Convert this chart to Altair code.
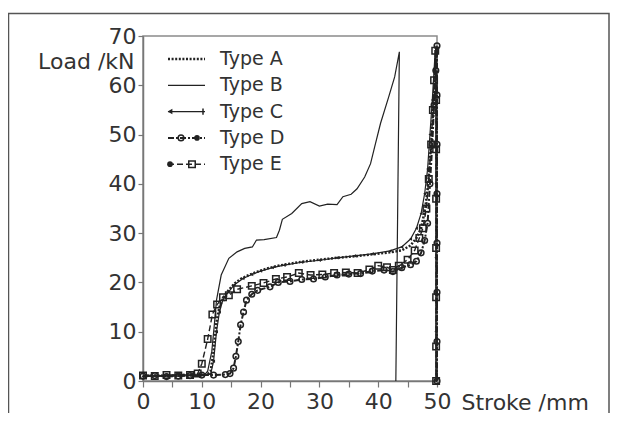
import altair as alt
import pandas as pd

TYPES = ["Type A", "Type B", "Type C", "Type D", "Type E"]

A_x = [0, 2, 4, 6, 8, 10, 11, 11.5, 12.0, 12.5, 13.0, 13.7, 14.6, 15.6, 16.6, 18.0, 19.5, 21.0, 23.0, 25.0, 27.0, 30.0, 33.0, 36.0, 39.0, 42.0, 44.0, 45.5, 46.5, 47.3, 48.0, 48.5, 49.0, 49.4, 49.7, 49.9, 49.95, 49.95, 49.95, 49.95, 49.95]
A_y = [1.0, 1.1, 1.0, 1.2, 1.3, 1.3, 1.4, 2.0, 6.0, 12.0, 15.0, 17.0, 18.5, 19.8, 20.7, 21.5, 22.2, 22.8, 23.4, 23.8, 24.2, 24.6, 25.0, 25.3, 25.7, 26.1, 26.5, 27.5, 29.0, 31.0, 35.0, 40.0, 48.0, 56.0, 63.0, 68.0, 55, 40, 25, 10, 0]

B_x = [0, 3, 6, 9, 10.5, 11.0, 11.7, 12.1, 12.5, 13.3, 14.6, 16.0, 17.3, 18.6, 19.3, 20.6, 22.7, 23.2, 23.7, 25.3, 27.0, 28.4, 30.0, 31.4, 33.0, 34.0, 35.4, 36.4, 37.7, 38.7, 39.4, 40.4, 41.8, 42.8, 43.6, 43.0]
B_y = [1.2, 1.1, 1.3, 1.2, 1.3, 2.0, 6.0, 11.0, 16.4, 21.5, 24.9, 26.2, 26.9, 27.2, 28.6, 28.7, 29.1, 30.6, 32.8, 34.0, 36.0, 36.4, 35.5, 35.9, 35.8, 37.4, 37.9, 39.0, 41.4, 44.1, 47.5, 52.3, 57.7, 61.7, 66.8, 0]

C_x = [0, 2, 4, 6, 8, 10, 11.5, 12.0, 12.5, 13.0, 13.6, 14.5, 15.5, 17.0, 18.5, 20.0, 22.0, 24.0, 27.0, 30.0, 33.0, 36.0, 39.0, 42.0, 44.0, 45.5, 46.5, 47.3, 47.9, 48.4, 48.8, 49.2, 49.5, 49.7, 49.8, 49.8, 49.8, 49.8, 49.8]
C_y = [0.9, 1.0, 1.1, 1.0, 1.1, 1.2, 1.4, 4.0, 10.0, 14.0, 16.5, 18.0, 19.5, 20.8, 21.6, 22.3, 23.0, 23.5, 24.1, 24.5, 25.0, 25.4, 25.8, 26.4, 27.2, 28.8, 31.0, 34.0, 38.0, 43.0, 50.0, 57.0, 63.0, 67.0, 55, 40, 25, 10, 0]

D_x = [0, 2, 4, 6, 8, 10, 12, 14, 14.8, 15.4, 15.8, 16.2, 16.6, 17.1, 17.6, 18.5, 19.5, 21.6, 23.0, 25.0, 27.0, 29.0, 31.0, 33.0, 35.0, 37.0, 39.0, 41.0, 42.5, 44.0, 45.5, 46.5, 47.3, 47.9, 48.4, 48.8, 49.2, 49.5, 49.8, 50.0, 50, 50, 50, 50, 50, 50, 50]
D_y = [1.0, 1.1, 0.9, 1.0, 1.1, 1.2, 1.2, 1.3, 1.5, 2.6, 5.0, 8.0, 11.4, 14.0, 16.4, 17.6, 18.4, 19.1, 20.0, 20.2, 20.6, 20.7, 21.1, 21.5, 21.7, 21.8, 22.3, 22.5, 22.2, 23.0, 23.6, 24.3, 26.0, 28.5, 32.0, 40.0, 48.0, 56.0, 63.0, 68.0, 58, 48, 38, 28, 18, 8, 0]

E_x = [0, 2, 4, 6, 8, 9.3, 10.0, 11.0, 11.8, 12.6, 13.6, 14.6, 16.0, 18.5, 20.5, 22.6, 24.5, 26.5, 28.5, 30.5, 32.5, 34.5, 36.5, 38.5, 40.0, 41.5, 42.5, 43.5, 45.0, 46.2, 47.0, 47.6, 48.2, 48.6, 49.0, 49.3, 49.5, 49.7, 49.85, 49.85, 49.85, 49.85, 49.85, 49.85, 49.85]
E_y = [1.1, 1.0, 1.2, 1.1, 1.2, 1.5, 3.5, 8.5, 13.5, 15.5, 17.0, 17.4, 18.6, 19.3, 19.9, 20.7, 21.1, 21.9, 21.5, 21.6, 21.9, 22.0, 21.9, 22.6, 23.4, 23.1, 22.5, 23.4, 24.6, 26.5, 29.0, 31.0, 35.0, 41.0, 48.0, 55.0, 61.0, 67.0, 57, 47, 37, 27, 17, 7, 0]

X_TICKS = [0, 5, 10, 15, 20, 25, 30, 35, 40, 45, 50]
Y_TICKS = [0, 10, 20, 30, 40, 50, 60, 70]

series = {
    "Type A": (A_x, A_y),
    "Type B": (B_x, B_y),
    "Type C": (C_x, C_y),
    "Type D": (D_x, D_y),
    "Type E": (E_x, E_y),
}
rows = []
for t, (xs_, ys_) in series.items():
    for i, (a, b) in enumerate(zip(xs_, ys_)):
        rows.append({"type": t, "stroke": a, "load": b, "idx": i})
df = pd.DataFrame(rows)

INK = "#222222"
TXT = "#333333"
FONT = "DejaVu Sans"

xscale = alt.Scale(domain=[0, 50], nice=False)
yscale = alt.Scale(domain=[0, 70], nice=False)
xaxis = alt.Axis(values=X_TICKS, labelExpr="datum.value % 10 == 0 ? datum.label : ''",
                 title="Stroke /mm", titleX=318, titleY=28, titleAlign="left",
                 titleBaseline="alphabetic", tickSize=6, labelPadding=4, grid=False,
                 labelFlush=False, labelOverlap=False)
yaxis = alt.Axis(values=Y_TICKS, title="Load /kN", titleAngle=0, titleX=-9, titleY=25,
                 titleAlign="right", titleBaseline="middle", tickSize=5, labelPadding=2,
                 grid=False, labelFlush=False, labelOverlap=False)

def sub(t):
    return alt.Chart(df).transform_filter(alt.datum.type == t)

line_style = {
    "Type A": dict(strokeWidth=2.5, strokeDash=[2, 1.6]),
    "Type B": dict(strokeWidth=1.2),
    "Type C": dict(strokeWidth=1.2),
    "Type D": dict(strokeWidth=2, strokeDash=[6, 2, 2, 2]),
    "Type E": dict(strokeWidth=1.4, strokeDash=[6, 3]),
}
point_style = {
    "Type C": dict(shape="triangle-left", filled=True, size=12),
    "Type D": dict(shape="circle", filled=False, size=32, strokeWidth=1.5),
    "Type E": dict(shape="square", filled=False, size=42, strokeWidth=1.5),
}

layers = []
for t in TYPES:
    layers.append(sub(t).mark_line(color=INK, **line_style[t]).encode(
        x=alt.X("stroke:Q", scale=xscale, axis=xaxis),
        y=alt.Y("load:Q", scale=yscale, axis=yaxis),
        order=alt.Order("idx:Q")))
    if t in point_style:
        layers.append(sub(t).mark_point(color=INK, opacity=1, **point_style[t])
                      .encode(x=alt.X("stroke:Q", scale=xscale, axis=xaxis),
                              y=alt.Y("load:Q", scale=yscale, axis=yaxis)))

# legend (drawn by hand, inside the plot, top-left)
leg_marks = {
    "Type C": [(27, dict(shape="triangle-left", filled=True, size=30)),
               (60, dict(shape="M0,-1L0,1", filled=False, size=40, strokeWidth=1.5))],
    "Type D": [(38, dict(shape="circle", filled=False, size=32, strokeWidth=1.5)),
               (54, dict(shape="circle", filled=True, size=32))],
    "Type E": [(27, dict(shape="circle", filled=True, size=32)),
               (49, dict(shape="square", filled=False, size=42, strokeWidth=1.5))],
}
for i, t in enumerate(TYPES):
    yy = 23 + 26.3 * i
    ldf = pd.DataFrame({"label": [t]})
    lc = alt.Chart(ldf)
    layers.append(lc.mark_rule(color=INK, **line_style[t]).encode(
        x=alt.value(25), x2=alt.value(62), y=alt.value(yy)))
    for px, st in leg_marks.get(t, []):
        layers.append(lc.mark_point(color=INK, opacity=1, **st).encode(
            x=alt.value(px), y=alt.value(yy)))
    layers.append(lc.mark_text(align="left", baseline="middle", font=FONT, fontSize=19,
                               color=TXT).encode(x=alt.value(77), y=alt.value(yy),
                                                 text="label:N"))

# outer figure frame
frame = alt.Chart(pd.DataFrame({"f": [0]})).mark_rect(
    filled=False, stroke="#555555", strokeWidth=1.5).encode(
    x=alt.value(-134.5), x2=alt.value(466), y=alt.value(-22.5), y2=alt.value(420))
layers.append(frame)

chart = alt.layer(*layers).properties(
    width=294, height=345,
    autosize=alt.AutoSizeParams(type="none"),
    padding={"left": 135, "top": 28, "right": 173, "bottom": 32},
    background="white",
).configure_view(stroke="#8a8a8a", strokeWidth=1.5).configure_axis(
    domainColor="#777777", domainWidth=1.5, tickColor="#777777", tickWidth=1.2,
    labelFont=FONT, labelFontSize=22, labelColor=TXT,
    titleFont=FONT, titleFontSize=22, titleColor=TXT, titleFontWeight="normal",
)

chart.save("out.html", embed_options={"renderer": "svg", "actions": False})
